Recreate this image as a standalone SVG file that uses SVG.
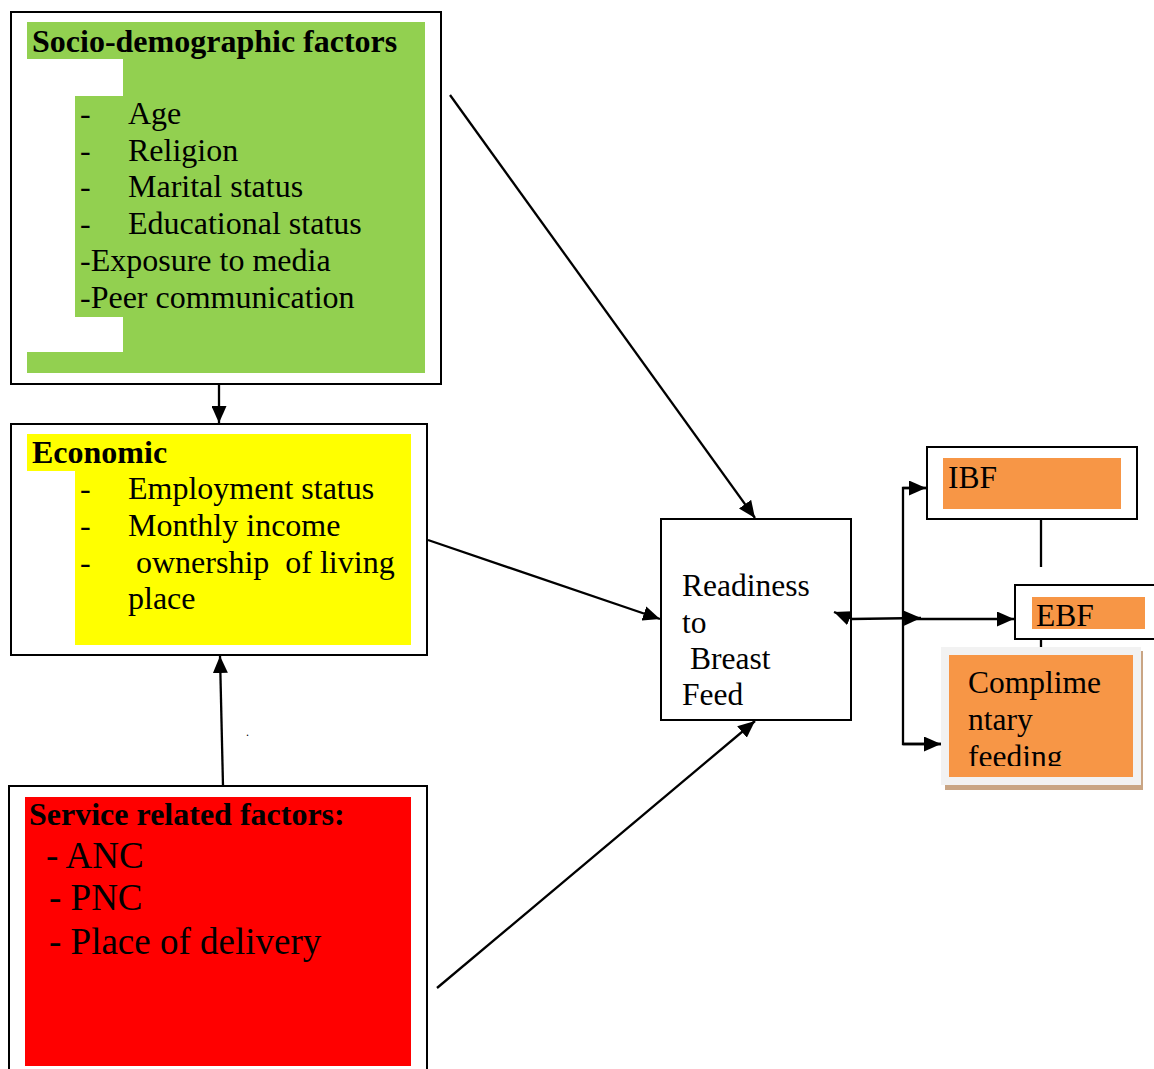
<svg xmlns="http://www.w3.org/2000/svg" width="1154" height="1069" viewBox="0 0 1154 1069">
<style>
  text { font-family: "Liberation Serif", "Times New Roman", serif; fill: #000; }
  .t { font-size: 32px; }
  .b { font-size: 32px; font-weight: bold; }
  .big { font-size: 37px; }
  .r { font-size: 31.5px; }
  .box { fill: #fff; stroke: #000; stroke-width: 2; }
  .conn line, .conn polyline { stroke: #000; stroke-width: 2.3; fill: none; }
</style>
<defs>
  <marker id="arr" markerUnits="userSpaceOnUse" markerWidth="18" markerHeight="15" refX="17" refY="7.5" orient="auto">
    <path d="M0,0 L17,7.5 L0,15 z" fill="#000"/>
  </marker>
  <clipPath id="compClip"><rect x="949" y="655" width="184" height="111"/></clipPath>
</defs>
<rect width="1154" height="1069" fill="#fff"/>

<g id="socio">
  <rect class="box" x="11" y="12" width="430" height="372"/>
  <path d="M27,22 H425 V373 H27 V352 H123 V317 H75 V96 H123 V59 H27 Z" fill="#92d050"/>
  <text class="b" x="32" y="52">Socio-demographic factors</text>
  <text class="t" x="80" y="124">-</text><text class="t" x="128" y="124">Age</text>
  <text class="t" x="80" y="161">-</text><text class="t" x="128" y="161">Religion</text>
  <text class="t" x="80" y="197">-</text><text class="t" x="128" y="197">Marital status</text>
  <text class="t" x="80" y="234">-</text><text class="t" x="128" y="234">Educational status</text>
  <text class="t" x="80" y="271">-Exposure to media</text>
  <text class="t" x="80" y="308">-Peer communication</text>
</g>

<g id="economic">
  <rect class="box" x="11" y="424" width="416" height="231"/>
  <path d="M27,434 H411 V645 H75 V471 H27 Z" fill="#ffff00"/>
  <text class="b" x="32" y="463">Economic</text>
  <text class="t" x="80" y="499">-</text><text class="t" x="128" y="499">Employment status</text>
  <text class="t" x="80" y="536">-</text><text class="t" x="128" y="536">Monthly income</text>
  <text class="t" x="80" y="573">-</text><text class="t" x="136" y="573" style="white-space:pre">ownership  of living</text>
  <text class="t" x="128" y="609">place</text>
</g>

<g id="service">
  <rect class="box" x="9" y="786" width="418" height="290"/>
  <rect x="25" y="797" width="386" height="269" fill="#ff0000"/>
  <text class="b" x="29" y="825">Service related factors:</text>
  <text class="big" x="46" y="868">- ANC</text>
  <text class="big" x="49" y="910">- PNC</text>
  <text class="big" x="49" y="954">- Place of delivery</text>
</g>

<text x="246" y="736" style="font-size:12px">.</text>

<g id="readiness">
  <rect class="box" x="661" y="519" width="190" height="201"/>
  <text class="r" x="682" y="596">Readiness</text>
  <text class="r" x="682" y="633">to</text>
  <text class="r" x="690" y="669">Breast</text>
  <text class="r" x="682" y="705">Feed</text>
</g>

<g id="ibf">
  <rect class="box" x="927" y="447" width="210" height="72"/>
  <rect x="943" y="458" width="178" height="51" fill="#f79646"/>
  <text class="r" x="948" y="488">IBF</text>
</g>

<g id="ebf">
  <rect class="box" x="1015" y="585" width="145" height="54"/>
  <rect x="1032" y="597" width="113" height="32" fill="#f79646"/>
  <text class="r" x="1036" y="626">EBF</text>
</g>

<g id="complementary">
  <rect x="945" y="651" width="198" height="139" fill="#c9a584"/>
  <rect x="941" y="647" width="200" height="138" fill="#f2f2f2"/>
  <rect x="949" y="655" width="184" height="122" fill="#f79646"/>
  <g clip-path="url(#compClip)">
    <text class="r" x="968" y="693">Complime</text>
    <text class="r" x="968" y="730">ntary</text>
    <text class="r" x="968" y="767">feeding</text>
  </g>
</g>

<g id="connectors" class="conn">
  <line x1="219" y1="384" x2="219" y2="423" marker-end="url(#arr)"/>
  <line x1="223" y1="786" x2="220" y2="656" marker-end="url(#arr)"/>
  <line x1="450" y1="95" x2="755" y2="518" marker-end="url(#arr)"/>
  <line x1="428" y1="540" x2="660" y2="619" marker-end="url(#arr)"/>
  <line x1="437" y1="988" x2="755" y2="721" marker-end="url(#arr)"/>
  <line x1="852" y1="619" x2="834" y2="612" marker-end="url(#arr)"/>
  <line x1="851" y1="619" x2="921" y2="618" marker-end="url(#arr)"/>
  <line x1="903" y1="619" x2="1014" y2="619" marker-end="url(#arr)"/>
  <polyline points="927,488 903,488 903,744 941,744"/>
  <line x1="903" y1="488" x2="926" y2="488" marker-end="url(#arr)"/>
  <line x1="903" y1="744" x2="941" y2="744" marker-end="url(#arr)"/>
  <line x1="1041" y1="519" x2="1041" y2="567"/>
  <line x1="1041" y1="639" x2="1041" y2="647"/>
</g>
</svg>
